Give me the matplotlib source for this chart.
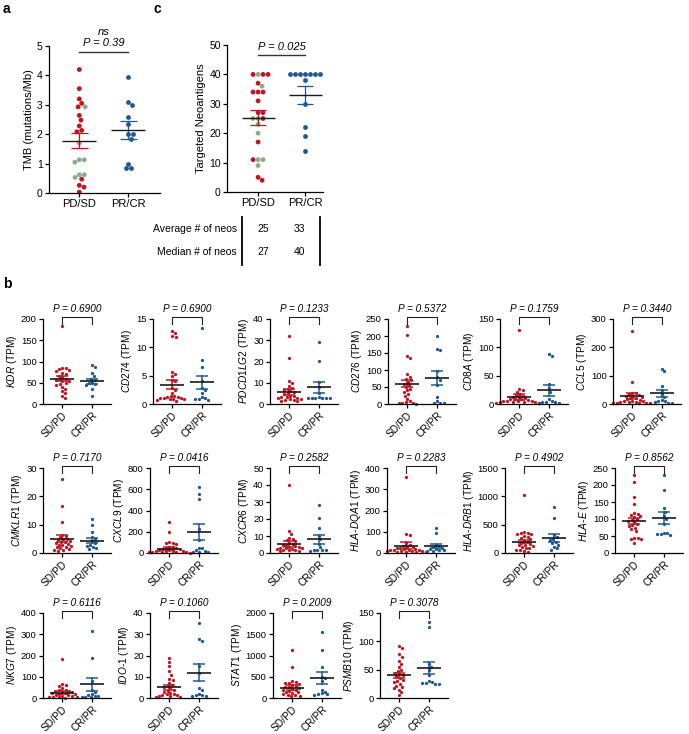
import numpy as np
import matplotlib
matplotlib.use("Agg")
import matplotlib.pyplot as plt
from matplotlib.lines import Line2D

plt.rcParams['font.family'] = ['Liberation Sans', 'DejaVu Sans']
plt.rcParams['mathtext.fontset'] = 'custom'
plt.rcParams['mathtext.rm'] = 'Liberation Sans'
plt.rcParams['mathtext.it'] = 'Liberation Sans:italic'
plt.rcParams['mathtext.bf'] = 'Liberation Sans:bold'

RED = '#c5121f'
BLUE = '#1d5894'
GREEN = '#8fa98c'

# ---- panel a: TMB ----
tmb_pd = [4.2, 3.55, 3.2, 3.05, 2.93, 2.93, 2.64, 2.48, 2.28, 2.13, 2.08, 1.7,
          1.13, 1.05, 1.13, 0.62, 0.62, 0.53, 0.47, 0.26, 0.2, 0.03]
tmb_pd_col = ['r', 'r', 'r', 'r', 'r', 'g', 'r', 'r', 'r', 'r', 'r', 'g',
              'g', 'g', 'g', 'g', 'g', 'g', 'r', 'r', 'r', 'r']
tmb_pr = [3.95, 3.1, 3.0, 2.6, 2.35, 2.0, 2.0, 1.85, 1.0, 0.85, 0.85]
tmb_mean = [1.78, 2.15]
tmb_sem = [0.26, 0.3]

# ---- panel c: targeted neoantigens ----
neo_pd = [40, 40, 40, 40, 37, 36, 34, 34, 34, 31, 27, 27, 25, 25, 25, 23, 20,
          17, 11, 11, 11, 9, 5, 4]
neo_pd_col = ['g', 'r', 'r', 'r', 'r', 'g', 'r', 'r', 'r', 'r', 'r', 'r', 'g',
              'r', 'g', 'g', 'g', 'r', 'g', 'g', 'r', 'g', 'r', 'r']
neo_pr = [40, 40, 40, 40, 40, 40, 40, 38, 30, 22, 19, 14]
neo_mean = [25.3, 33]
neo_sem = [2.5, 3.0]
table_rows = ['Average # of neos', 'Median # of neos']
table_pd = ['25', '27']
table_pr = ['33', '40']

# ---- panel b: gene expression (TPM) ----
kdr_sd = [183, 85, 84, 82, 80, 78, 72, 70, 67, 63, 60, 58, 57, 55, 53, 50, 48, 45, 40, 35, 30, 25, 20, 14]
kdr_cr = [92, 88, 72, 65, 60, 57, 52, 50, 47, 45, 35, 20]
cd274_sd = [12.8, 12.5, 12.0, 11.8, 5.7, 5.3, 5.0, 4.3, 4.0, 2.8, 2.5, 2.0, 1.5, 1.4, 1.3, 1.2, 1.1, 1.0, 1.0, 0.9, 0.8, 0.8, 0.7, 0.6]
cd274_cr = [13.5, 7.7, 6.5, 4.0, 2.8, 2.5, 2.0, 1.3, 1.0, 0.9, 0.8, 0.7]
pdcd1lg2_sd = [32, 21.5, 11, 10, 8.5, 7.5, 7, 6.5, 6, 5.5, 5, 4.5, 4, 3.8, 3.5, 3.2, 3, 2.8, 2.5, 2.2, 2, 1.8, 1.5, 1.2]
pdcd1lg2_cr = [29, 20.2, 10.5, 8, 5, 3.2, 3.0, 3.0, 2.9, 2.8, 2.8, 2.7]
cd276_sd = [228, 203, 142, 135, 88, 80, 75, 70, 65, 60, 55, 50, 45, 40, 35, 30, 25, 15, 8, 5, 3, 2, 2, 1]
cd276_cr = [200, 162, 160, 97, 78, 72, 57, 20, 8, 3, 3, 2]
cd8a_sd = [130, 27, 25, 22, 18, 16, 15, 13, 12, 10, 9, 8, 8, 7, 6, 5, 5, 5, 4, 4, 3, 3, 2, 2]
cd8a_cr = [88, 85, 35, 28, 22, 8, 5, 4, 3, 3, 2, 2]
ccl5_sd = [258, 78, 40, 38, 35, 32, 30, 28, 25, 22, 20, 18, 15, 12, 10, 10, 8, 8, 6, 5, 5, 4, 3, 2]
ccl5_cr = [125, 115, 65, 50, 35, 25, 15, 12, 10, 8, 5, 3]
cmklr1_sd = [26, 16.5, 10.8, 6.5, 6.0, 5.5, 5.0, 4.8, 4.5, 4.2, 4.0, 3.8, 3.5, 3.2, 3.0, 2.8, 2.5, 2.2, 2.0, 1.8, 1.5, 1.2, 1.0, 0.8]
cmklr1_cr = [12, 10, 7.5, 5.5, 4.8, 4.2, 3.5, 3.0, 2.5, 2.0, 1.8, 1.5]
cxcl9_sd = [290, 200, 100, 95, 90, 85, 60, 55, 50, 45, 40, 35, 30, 25, 22, 20, 18, 15, 12, 10, 8, 6, 5, 3]
cxcl9_cr = [620, 560, 505, 230, 120, 50, 45, 30, 20, 10, 8, 5]
cxcr6_sd = [40, 12.8, 11, 9, 8.5, 7.5, 7, 6, 5.5, 5, 4.5, 4, 3.8, 3.5, 3.2, 3, 2.8, 2.5, 2.2, 2, 1.8, 1.5, 1.2, 1]
cxcr6_cr = [28.5, 20.5, 15, 10, 8, 5.5, 3.5, 2, 1.8, 1.5, 1.5, 1.2]
hladqa1_sd = [360, 90, 85, 45, 40, 35, 30, 28, 25, 22, 20, 18, 16, 15, 14, 12, 10, 10, 8, 8, 6, 5, 4, 3]
hladqa1_cr = [118, 95, 40, 35, 30, 25, 20, 18, 15, 12, 10, 8]
hladrb1_sd = [1030, 370, 360, 350, 340, 330, 300, 280, 260, 240, 220, 200, 180, 160, 150, 140, 120, 100, 90, 80, 60, 50, 30, 20]
hladrb1_cr = [820, 620, 320, 280, 250, 230, 200, 180, 150, 100, 80, 60]
hlae_sd = [230, 208, 165, 145, 118, 115, 112, 108, 105, 100, 98, 95, 90, 85, 82, 78, 75, 70, 65, 45, 43, 42, 40, 30]
hlae_cr = [230, 185, 132, 122, 108, 100, 85, 60, 58, 55, 55, 52]
nkg7_sd = [185, 65, 60, 55, 45, 40, 38, 35, 32, 30, 28, 25, 22, 20, 18, 15, 12, 10, 8, 6, 5, 4, 3, 2]
nkg7_cr = [315, 188, 80, 40, 30, 20, 15, 10, 8, 5, 5, 3]
ido1_sd = [19, 17, 15, 12.5, 11, 9, 8.5, 7, 6, 5.5, 5, 4.5, 4, 3.5, 3, 2.5, 2, 1.8, 1.5, 1.2, 1.0, 0.8, 0.6, 0.5]
ido1_cr = [35.5, 28, 27, 15, 12, 4.5, 4, 2, 1.5, 1.2, 1, 1]
stat1_sd = [1120, 730, 400, 380, 360, 350, 330, 300, 280, 260, 250, 230, 210, 200, 180, 160, 150, 130, 120, 100, 80, 60, 50, 40]
stat1_cr = [1550, 1140, 740, 500, 460, 400, 200, 150, 110, 100, 90, 80]
psmb10_sd = [92, 88, 77, 73, 65, 60, 55, 50, 48, 45, 42, 40, 38, 35, 32, 30, 28, 25, 22, 20, 18, 15, 10, 5]
psmb10_cr = [135, 125, 60, 55, 50, 40, 30, 28, 27, 26, 25, 25]

genes = ['KDR', 'CD274', 'PDCD1LG2', 'CD276', 'CD8A', 'CCL5',
         'CMKLR1', 'CXCL9', 'CXCR6', 'HLA-DQA1', 'HLA-DRB1', 'HLA-E',
         'NKG7', 'IDO-1', 'STAT1', 'PSMB10']
sd_vals = [kdr_sd, cd274_sd, pdcd1lg2_sd, cd276_sd, cd8a_sd, ccl5_sd,
           cmklr1_sd, cxcl9_sd, cxcr6_sd, hladqa1_sd, hladrb1_sd, hlae_sd,
           nkg7_sd, ido1_sd, stat1_sd, psmb10_sd]
cr_vals = [kdr_cr, cd274_cr, pdcd1lg2_cr, cd276_cr, cd8a_cr, ccl5_cr,
           cmklr1_cr, cxcl9_cr, cxcr6_cr, hladqa1_cr, hladrb1_cr, hlae_cr,
           nkg7_cr, ido1_cr, stat1_cr, psmb10_cr]
mean_sd = [60, 3.4, 5.8, 60, 12, 28, 5.0, 40, 5.2, 35, 200, 95, 25, 5.0, 245, 40]
sem_sd = [6.5, 0.8, 1.4, 10, 5, 11, 1.2, 15, 1.6, 15, 28, 9, 8, 1.1, 50, 5]
mean_cr = [53, 3.8, 7.9, 77, 24, 38, 4.4, 200, 8.0, 33, 270, 103, 65, 12, 470, 53]
sem_cr = [6.5, 1.2, 2.6, 21, 10, 12, 0.9, 73, 2.8, 9, 68, 17, 30, 3.8, 145, 11]
ymax = [200, 15, 40, 250, 150, 300, 30, 800, 50, 400, 1500, 250, 400, 40, 2000, 150]
ystep = [50, 5, 10, 50, 50, 100, 10, 200, 10, 100, 500, 50, 100, 10, 500, 50]
pvals = ['0.6900', '0.6900', '0.1233', '0.5372', '0.1759', '0.3440',
         '0.7170', '0.0416', '0.2582', '0.2283', '0.4902', '0.8562',
         '0.6116', '0.1060', '0.2009', '0.3078']

W, H = 689, 734
fig = plt.figure(figsize=(W / 100, H / 100), dpi=100)


def add_ax(left, top, w, h):
    return fig.add_axes([left / W, 1 - (top + h) / H, w / W, h / H])


def swarm(ax, vals, xc, d):
    """simple beeswarm: x offsets (in pixels) so that dots don't overlap"""
    pos = ax.get_position()
    x0, x1 = ax.get_xlim()
    y0, y1 = ax.get_ylim()
    sx = pos.width * W / (x1 - x0)
    sy = pos.height * H / (y1 - y0)
    vals = np.asarray(vals, float)
    xs = np.zeros(len(vals))
    placed = []
    for i in np.argsort(-vals):
        y = vals[i] * sy
        cands = [0.0]
        for px, py in placed:
            dy = abs(py - y)
            if dy < d:
                dx = np.sqrt(d * d - dy * dy)
                cands += [px + dx, px - dx]
        cands.sort(key=abs)
        for c in cands:
            if all((c - px) ** 2 + (y - py) ** 2 >= d * d - 1e-6 for px, py in placed):
                xs[i] = c
                break
        placed.append((xs[i], y))
    return xc + xs / sx


def style(ax, fs):
    for s in ['top', 'right']:
        ax.spines[s].set_visible(False)
    for s in ['left', 'bottom']:
        ax.spines[s].set_linewidth(0.9)
    ax.tick_params(direction='out', length=3, width=0.9, labelsize=fs, pad=1.5)


def mean_sem(ax, xc, m, s, col, hw, cw, lw=1.0):
    ax.plot([xc - hw, xc + hw], [m, m], color='#1a1a1a', lw=lw, zorder=4,
            solid_capstyle='butt')
    ax.plot([xc, xc], [m - s, m + s], color=col, lw=lw * 0.9, zorder=3)
    for yy in (m - s, m + s):
        ax.plot([xc - cw, xc + cw], [yy, yy], color=col, lw=lw * 0.9, zorder=3,
                solid_capstyle='butt')


# ================= panel a =================
ax = add_ax(49, 46, 111, 147)
ax.set_xlim(-0.62, 1.65)
ax.set_ylim(0, 5)
style(ax, 7.5)
ax.set_yticks(range(0, 6))
ax.set_xticks([0, 1])
ax.set_xticklabels(['PD/SD', 'PR/CR'], fontsize=8)
ax.set_ylabel('TMB (mutations/Mb)', fontsize=8, labelpad=2)
xa = swarm(ax, tmb_pd, 0, 5.0)
ax.scatter(xa, tmb_pd, s=12, c=[RED if c == 'r' else GREEN for c in tmb_pd_col],
           linewidths=0, zorder=2, clip_on=False)
xb = swarm(ax, tmb_pr, 1, 5.0)
ax.scatter(xb, tmb_pr, s=12, c=BLUE, linewidths=0, zorder=2, clip_on=False)
mean_sem(ax, 0, tmb_mean[0], tmb_sem[0], RED, 0.35, 0.17)
mean_sem(ax, 1, tmb_mean[1], tmb_sem[1], BLUE, 0.35, 0.17)
ax.plot([0, 1], [4.78, 4.78], color='#333333', lw=1.0, clip_on=False)
ax.text(0.5, 5.1, 'P = 0.39', ha='center', va='center', fontsize=8, style='italic')
ax.text(0.5, 5.48, 'ns', ha='center', va='center', fontsize=8, style='italic')

# ================= panel c =================
ax = add_ax(227, 45, 96, 147)
ax.set_xlim(-0.66, 1.38)
ax.set_ylim(0, 50)
style(ax, 7.5)
ax.set_yticks(range(0, 51, 10))
ax.set_xticks([0, 1])
ax.set_xticklabels(['PD/SD', 'PR/CR'], fontsize=8)
ax.set_ylabel('Targeted Neoantigens', fontsize=8, labelpad=2)
xa = swarm(ax, neo_pd, 0, 5.0)
ax.scatter(xa, neo_pd, s=12, c=[RED if c == 'r' else GREEN for c in neo_pd_col],
           linewidths=0, zorder=2, clip_on=False)
xb = swarm(ax, neo_pr, 1, 5.0)
ax.scatter(xb, neo_pr, s=12, c=BLUE, linewidths=0, zorder=2, clip_on=False)
mean_sem(ax, 0, neo_mean[0], neo_sem[0], RED, 0.35, 0.17)
mean_sem(ax, 1, neo_mean[1], neo_sem[1], BLUE, 0.35, 0.17)
ax.plot([0, 1], [46.6, 46.6], color='#333333', lw=1.0, clip_on=False)
ax.text(0.5, 49.3, 'P = 0.025', ha='center', va='center', fontsize=8, style='italic')

# table under panel c
for i, lab in enumerate(table_rows):
    yy = 1 - (229 + 23 * i) / H
    fig.text(237 / W, yy, lab, ha='right', va='center', fontsize=7.5)
    fig.text(263 / W, yy, table_pd[i], ha='center', va='center', fontsize=7.5)
    fig.text(299 / W, yy, table_pr[i], ha='center', va='center', fontsize=7.5)
for xx in (242, 320):
    fig.add_artist(Line2D([xx / W, xx / W], [1 - 217 / H, 1 - 265 / H],
                          color='k', lw=1.3, transform=fig.transFigure))

# ================= panel b =================
lefts = [43, 153, 270, 388, 500, 613,
         43, 150, 270, 387, 505, 615,
         43, 150, 273, 380]
tops = [319] * 6 + [468] * 6 + [613] * 4

for i, g in enumerate(genes):
    ax = add_ax(lefts[i], tops[i], 68, 85)
    ax.set_xlim(-0.65, 1.65)
    ax.set_ylim(0, ymax[i])
    style(ax, 6.8)
    ax.set_yticks(np.arange(0, ymax[i] + 1, ystep[i]))
    ax.set_xticks([0, 1])
    ax.set_xticklabels(['SD/PD', 'CR/PR'], rotation=45, ha='right',
                       rotation_mode='anchor', fontsize=7.3)
    name = '-'.join(r'$\mathit{' + part + '}$' for part in g.split('-'))
    ax.set_ylabel(name + ' (TPM)', fontsize=7.3, labelpad=1.5)
    xa = swarm(ax, sd_vals[i], 0, 3.6)
    ax.scatter(xa, sd_vals[i], s=5.5, c=RED, linewidths=0, zorder=2, clip_on=False)
    xb = swarm(ax, cr_vals[i], 1, 3.6)
    ax.scatter(xb, cr_vals[i], s=5.5, c=BLUE, linewidths=0, zorder=2, clip_on=False)
    mean_sem(ax, 0, mean_sd[i], sem_sd[i], RED, 0.4, 0.2, lw=1.2)
    mean_sem(ax, 1, mean_cr[i], sem_cr[i], BLUE, 0.4, 0.2, lw=1.2)
    tr = ax.get_xaxis_transform()
    ax.plot([0, 0, 1, 1], [0.94, 1.02, 1.02, 0.94], color='#222222', lw=0.8,
            transform=tr, clip_on=False)
    ax.text(0.5, 1.06, 'P = ' + pvals[i], transform=tr, ha='center', va='bottom',
            fontsize=7.2, style='italic')

fig.text(3 / W, 1 - 9 / H, 'a', fontsize=10, fontweight='bold', va='center')
fig.text(153 / W, 1 - 9 / H, 'c', fontsize=10, fontweight='bold', va='center')
fig.text(3 / W, 1 - 284 / H, 'b', fontsize=10, fontweight='bold', va='center')

fig.savefig('out.png', dpi=100)
